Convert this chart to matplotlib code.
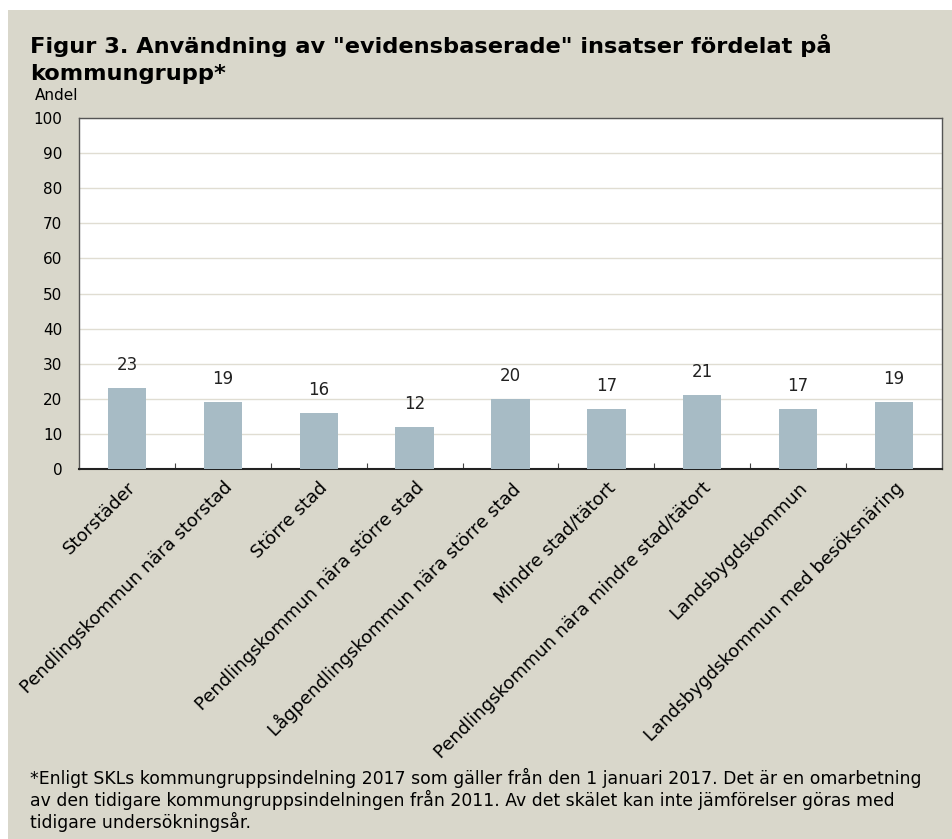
import matplotlib.pyplot as plt
import numpy as np

# Data
kategorier = ['Storstäder', 'Pendlingskommun nära storstad', 'Större stad',
              'Pendlingskommun nära större stad', 'Lågpendlingskommun nära större stad',
              'Mindre stad/tätort', 'Pendlingskommun nära mindre stad/tätort',
              'Landsbygdskommun', 'Landsbygdskommun med besöksnäring']
andel = [23, 19, 16, 12, 20, 17, 21, 17, 19]
yticks = [0, 10, 20, 30, 40, 50, 60, 70, 80, 90, 100]

bg = '#d9d7cb'
bar_color = '#a7bbc5'

plt.rcParams['font.family'] = ['DejaVu Sans']

fig = plt.figure(figsize=(9.53, 8.39), dpi=100, facecolor='white')
# beige panel
fig.patches.append(plt.Rectangle((8 / 953, 0), 1, 1 - 10 / 839,
                                 transform=fig.transFigure, facecolor=bg,
                                 edgecolor='none', zorder=-10))

ax = fig.add_axes([79 / 953, 1 - 469 / 839, 863 / 953, 351 / 839])
ax.set_facecolor('white')

x = np.arange(len(kategorier))
ax.bar(x, andel, width=0.4, color=bar_color, zorder=3)

for xi, v in zip(x, andel):
    ax.annotate(str(v), (xi, v), xytext=(0, 10), textcoords='offset points',
                ha='center', va='bottom', fontsize=12, color='#222222')

ax.set_xlim(-0.5, len(kategorier) - 0.5)
ax.set_ylim(0, 100)
ax.set_yticks(yticks)
ax.yaxis.grid(True, color='#e0ddd2', linewidth=1, zorder=0)
ax.tick_params(axis='y', length=0, labelsize=11, pad=12)

# tick marks between the bars
ax.set_xticks(x[:-1] + 0.5, minor=False)
ax.set_xticklabels([])
ax.tick_params(axis='x', which='major', direction='in', length=4, color='#444444')
ax.set_xticks(x, minor=True)
ax.set_xticklabels(kategorier, minor=True, rotation=45, ha='right',
                   rotation_mode='anchor', fontsize=13)
ax.tick_params(axis='x', which='minor', length=0, pad=7)

for s in ax.spines.values():
    s.set_color('#555555')
    s.set_linewidth(1)
ax.spines['bottom'].set_color('#222222')
ax.spines['bottom'].set_linewidth(1.5)

fig.text(30 / 953, 1 - 59 / 839,
         'Figur 3. Användning av "evidensbaserade" insatser fördelat på\nkommungrupp*',
         fontsize=16.2, fontweight='bold', va='center', ha='left', linespacing=1.45)
fig.text(35 / 953, 1 - 96 / 839, 'Andel', fontsize=11, va='center', ha='left')

fig.text(30 / 953, 1 - 800 / 839,
         '*Enligt SKLs kommungruppsindelning 2017 som gäller från den 1 januari 2017. Det är en omarbetning\n'
         'av den tidigare kommungruppsindelningen från 2011. Av det skälet kan inte jämförelser göras med\n'
         'tidigare undersökningsår.',
         fontsize=12.4, va='center', ha='left', linespacing=1.1)

fig.savefig('out.png', dpi=100, facecolor=fig.get_facecolor())
